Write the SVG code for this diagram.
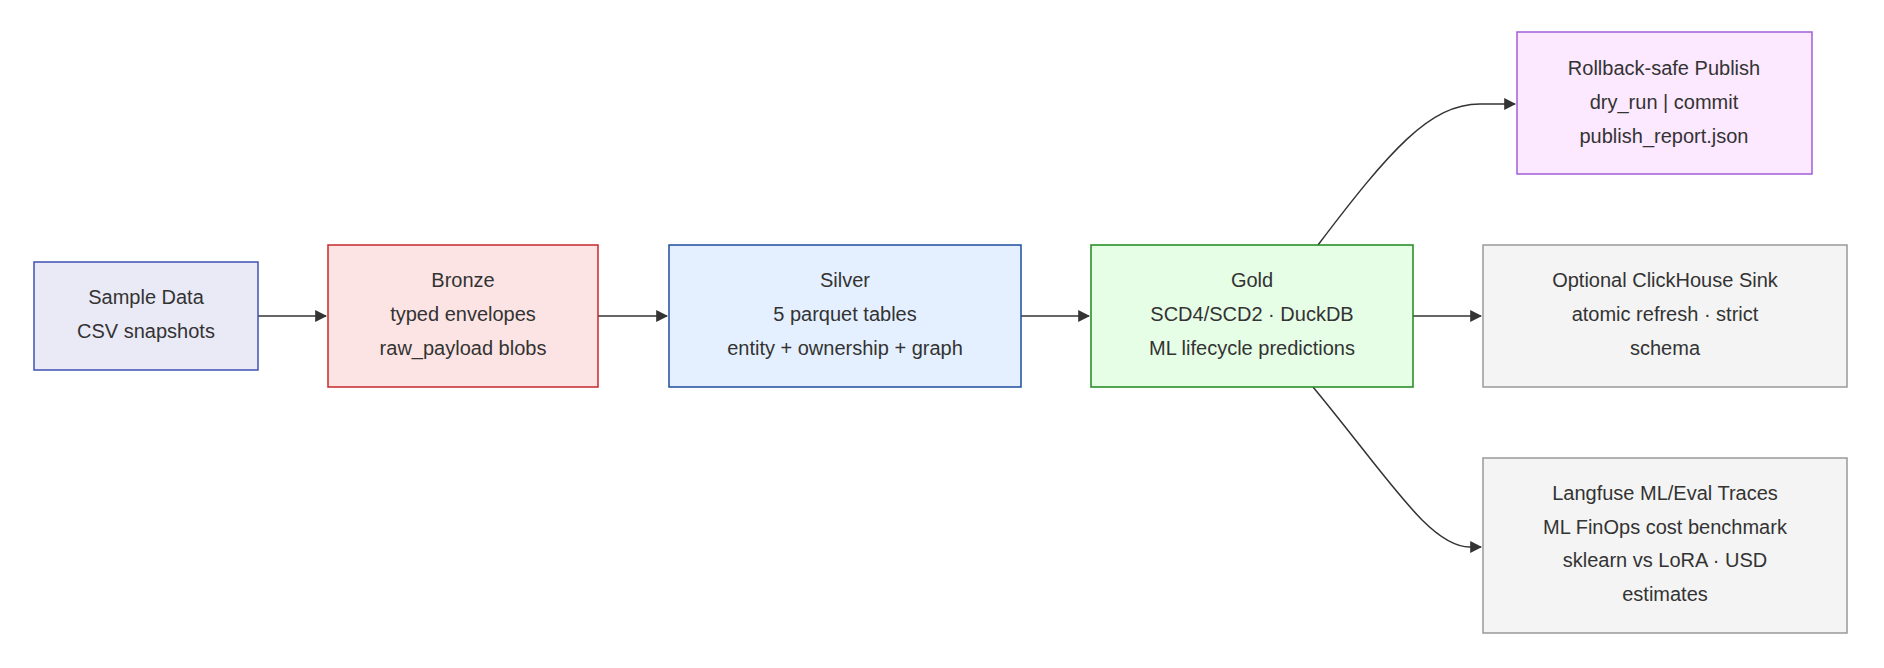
<svg xmlns="http://www.w3.org/2000/svg" width="1884" height="668" viewBox="0 0 1884 668">
<style>
text{font-family:"Liberation Sans",Arial,sans-serif;font-size:20px;fill:#333;text-anchor:middle;dominant-baseline:middle}
rect{stroke-width:1.5}
.e{fill:none;stroke:#333;stroke-width:1.5}
</style>
<defs><marker id="a" viewBox="0 0 10 10" refX="9" refY="5" markerWidth="8" markerHeight="8" orient="auto"><path d="M0,0L10,5L0,10z" fill="#333"/></marker></defs>
<rect width="1884" height="668" fill="#fff" style="stroke:none"/>
<g id="edges">
<path class="e" d="M258,316H326" marker-end="url(#a)"/>
<path class="e" d="M598,316H667" marker-end="url(#a)"/>
<path class="e" d="M1021,316H1089" marker-end="url(#a)"/>
<path class="e" d="M1413,316H1481" marker-end="url(#a)"/>
<path class="e" d="M1318,245C1390,150 1430,104 1480,104H1515" marker-end="url(#a)"/>
<path class="e" d="M1313,387C1390,480 1430,547 1470,547H1481" marker-end="url(#a)"/>
</g>
<g id="sample"><rect x="34" y="262" width="224" height="108" fill="#eaeaf7" stroke="#3f51b5"/><text x="146" y="299">Sample Data</text><text x="146" y="333">CSV snapshots</text></g>
<g id="bronze"><rect x="328" y="245" width="270" height="142" fill="#fde4e4" stroke="#c62828"/><text x="463" y="282">Bronze</text><text x="463" y="316">typed envelopes</text><text x="463" y="350">raw_payload blobs</text></g>
<g id="silver"><rect x="669" y="245" width="352" height="142" fill="#e4f0ff" stroke="#1e4fa0"/><text x="845" y="282">Silver</text><text x="845" y="316">5 parquet tables</text><text x="845" y="350">entity + ownership + graph</text></g>
<g id="gold"><rect x="1091" y="245" width="322" height="142" fill="#e6fde6" stroke="#1b8a1b"/><text x="1252" y="282">Gold</text><text x="1252" y="316">SCD4/SCD2 · DuckDB</text><text x="1252" y="350">ML lifecycle predictions</text></g>
<g id="publish"><rect x="1517" y="32" width="295" height="142" fill="#fce8ff" stroke="#a15ed6"/><text x="1664" y="70">Rollback-safe Publish</text><text x="1664" y="104">dry_run | commit</text><text x="1664" y="138">publish_report.json</text></g>
<g id="clickhouse"><rect x="1483" y="245" width="364" height="142" fill="#f4f4f4" stroke="#999"/><text x="1665" y="282">Optional ClickHouse Sink</text><text x="1665" y="316">atomic refresh · strict</text><text x="1665" y="350">schema</text></g>
<g id="langfuse"><rect x="1483" y="458" width="364" height="175" fill="#f4f4f4" stroke="#999"/><text x="1665" y="495">Langfuse ML/Eval Traces</text><text x="1665" y="529">ML FinOps cost benchmark</text><text x="1665" y="562">sklearn vs LoRA · USD</text><text x="1665" y="596">estimates</text></g>
</svg>
